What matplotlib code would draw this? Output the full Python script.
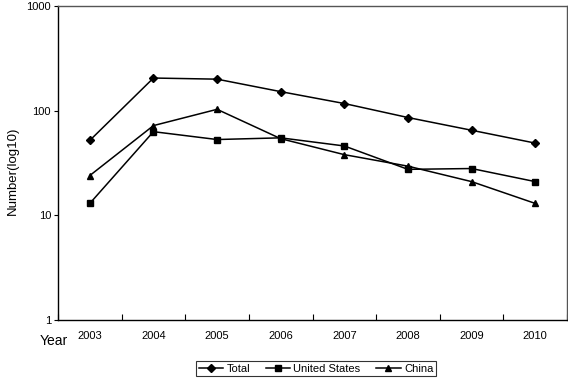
import matplotlib
matplotlib.use('Agg')
import matplotlib.pyplot as plt
import numpy as np

plt.rcParams['font.family'] = ['Liberation Sans', 'DejaVu Sans']

years = ['2003', '2004', '2005', '2006', '2007', '2008', '2009', '2010']
total = [52, 205, 200, 152, 117, 86, 65, 49]
united_states = [13, 63, 53, 55, 46, 27.5, 28, 21]
china = [24, 72, 103, 54, 38, 29.5, 21, 13]

fig = plt.figure(figsize=(5.68, 3.79), dpi=100)
ax = fig.add_axes([58/568, 1-320/379, 509/568, 314/379])

x = np.arange(len(years))
ax.plot(x, total, color='black', lw=1.1, marker='D', ms=4, label='Total')
ax.plot(x, united_states, color='black', lw=1.1, marker='s', ms=4.2, label='United States')
ax.plot(x, china, color='black', lw=1.1, marker='^', ms=5, label='China')

ax.set_yscale('log')
ax.set_ylim(1, 1000)
ax.set_yticks([1, 10, 100, 1000])
ax.set_yticklabels(['1', '10', '100', '1000'])
ax.minorticks_off()
ax.set_xlim(-0.5, len(years) - 0.5)
ax.set_xticks(np.arange(len(years) + 1) - 0.5)
ax.set_xticklabels([])
ax.tick_params(axis='x', direction='in', length=4, width=0.8)
ax.tick_params(axis='y', direction='out', length=3, width=0.8, labelsize=8, pad=2)
for i, yr in enumerate(years):
    ax.text(i, -0.035, yr, transform=ax.get_xaxis_transform(), ha='center', va='top', fontsize=8)

for s in ['left', 'bottom']:
    ax.spines[s].set_linewidth(1)
for s in ['top', 'right']:
    ax.spines[s].set_color('#555555')
    ax.spines[s].set_linewidth(1)

fig.text(13/568, 1-171/379, 'Number(log10)', rotation=90, ha='center', va='center', fontsize=9.5)
fig.text(40/568, 1-341/379, 'Year', ha='left', va='center', fontsize=10)

leg = fig.legend(loc='center', bbox_to_anchor=(316/568, 1-368.5/379), ncol=3, fontsize=8,
                 frameon=True, fancybox=False, edgecolor='black', handlelength=2.2,
                 columnspacing=1.4, handletextpad=0.3, borderpad=0.25, borderaxespad=0)
leg.get_frame().set_linewidth(0.8)

fig.savefig('out.png', dpi=100)
